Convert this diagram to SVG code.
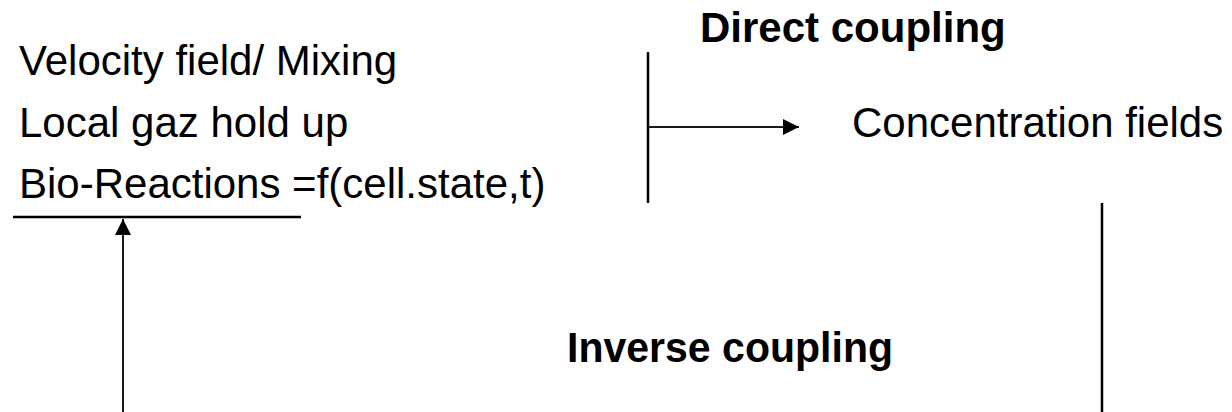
<svg xmlns="http://www.w3.org/2000/svg" width="1232" height="412" viewBox="0 0 1232 412">
<style>
.t{font-family:"Liberation Sans",Arial,sans-serif;font-size:42px;fill:#000}
.b{font-weight:bold}
.ln{stroke:#000;stroke-width:2.5;fill:none}
.ar{stroke:#1a1a1a;stroke-width:2;fill:none}
</style>
<defs>
<marker id="ah" viewBox="0 0 16 16" refX="16" refY="8" markerWidth="16" markerHeight="16" markerUnits="userSpaceOnUse" orient="auto">
<path d="M0,0 L16,8 L0,16 Z" fill="#000"/>
</marker>
</defs>
<rect width="1232" height="412" fill="#fff"/>
<g id="node-inputs">
<text class="t" x="19" y="75">Velocity field/ Mixing</text>
<text class="t" x="19" y="137">Local gaz hold up</text>
<text class="t" x="19" y="198">Bio-Reactions =f(cell.state,t)</text>
</g>
<g id="node-direct-label"><text class="t b" x="700" y="42">Direct coupling</text></g>
<g id="node-concentration"><text class="t" x="852" y="137">Concentration fields</text></g>
<g id="node-inverse-label"><text class="t b" x="567" y="362" textLength="326" lengthAdjust="spacingAndGlyphs">Inverse coupling</text></g>
<g id="connectors">
<line class="ln" x1="648" y1="52" x2="648" y2="203"/>
<line class="ar" x1="648" y1="127" x2="799" y2="127" marker-end="url(#ah)"/>
<line class="ln" x1="1102" y1="203" x2="1102" y2="412"/>
<line class="ln" x1="13" y1="217" x2="301" y2="217"/>
<line class="ar" x1="123" y1="412" x2="123" y2="219" marker-end="url(#ah)"/>
</g>
</svg>
